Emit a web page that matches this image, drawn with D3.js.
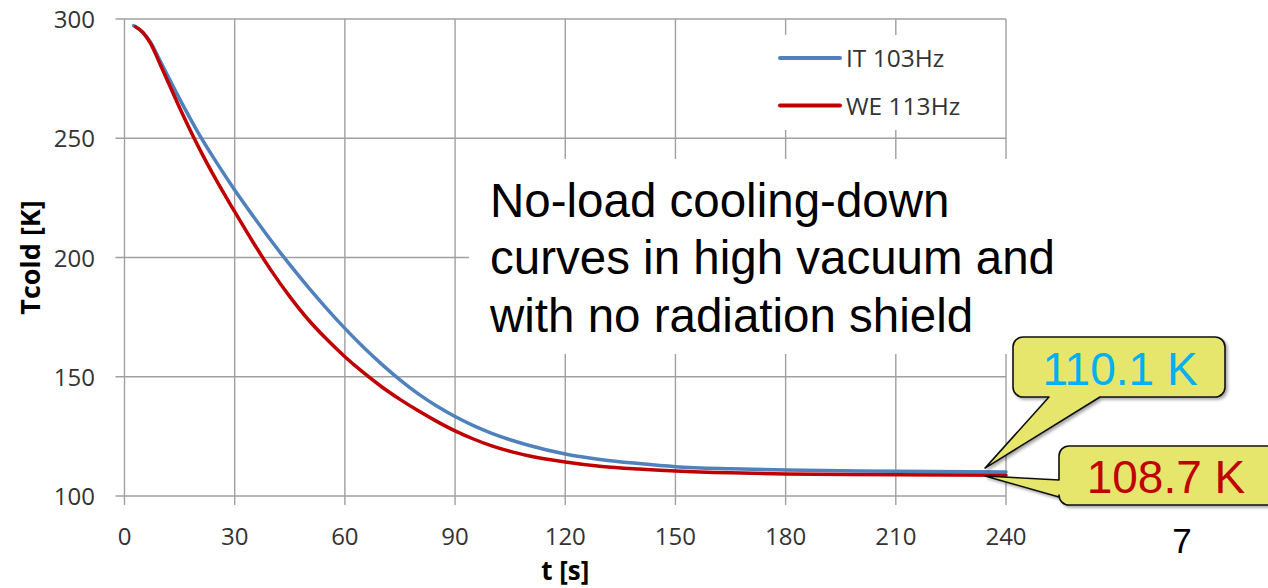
<!DOCTYPE html>
<html>
<head>
<meta charset="utf-8">
<script src="https://cdn.jsdelivr.net/npm/d3@7"></script>
<style>
  body { margin: 0; background: #fff; }
  svg { display: block; }
</style>
</head>
<body>
<script>
// Data
const tBlue = [2.5, 5, 7, 10, 15, 20, 25, 30, 35, 40, 45, 50, 55, 60, 65, 70, 75, 80, 85, 90, 95, 100, 105, 110, 120, 130, 140, 150, 165, 180, 210, 240];
const itValues = [297.2, 294.5, 290.5, 281.5, 266.5, 252.5, 240, 228.3, 217.4, 206.9, 197, 187.6, 178.7, 170.3, 162.5, 155.3, 148.7, 142.8, 137.7, 133.3, 129.5, 126.3, 123.6, 121.3, 117.6, 115.2, 113.6, 112.3, 111.4, 110.9, 110.4, 110.1];
const tRed = [3, 5, 7, 10, 15, 20, 25, 30, 35, 40, 45, 50, 55, 60, 65, 70, 75, 80, 85, 90, 95, 100, 105, 110, 120, 130, 140, 150, 165, 180, 210, 240];
const weValues = [296.8, 294.3, 290, 280, 262.8, 246.8, 232.4, 219.2, 206.4, 194.4, 183.6, 174, 165.8, 158.4, 151.8, 145.8, 140.5, 135.7, 131.3, 127.3, 123.9, 121, 118.7, 116.9, 114.3, 112.4, 111.3, 110.5, 109.7, 109.2, 108.9, 108.7];
const xTicks = [0, 30, 60, 90, 120, 150, 180, 210, 240];
const yTicks = [100, 150, 200, 250, 300];
const seriesNames = ["IT 103Hz", "WE 113Hz"];
const noteLines = ["No-load cooling-down", "curves in high vacuum and", "with no radiation shield"];
const endLabels = ["110.1 K", "108.7 K"];

const width = 1268, height = 588;
const blue = "#4f81bd", red = "#c00000", grid = "#a0a0a0";

const svg = d3.select("body").append("svg")
  .attr("width", width)
  .attr("height", height);

const x = d3.scaleLinear().domain([0, 240]).range([124.5, 1006]);
const y = d3.scaleLinear().domain([100, 300]).range([496, 19]);

// grid lines + ticks
const g = svg.append("g");
g.selectAll(".hgrid").data(yTicks).join("line")
  .attr("x1", x(0) - 9).attr("x2", x(240))
  .attr("y1", d => y(d)).attr("y2", d => y(d))
  .attr("stroke", grid).attr("stroke-width", 1.4);
g.selectAll(".vgrid").data(xTicks).join("line")
  .attr("x1", d => x(d)).attr("x2", d => x(d))
  .attr("y1", y(300)).attr("y2", y(100) + 9)
  .attr("stroke", grid).attr("stroke-width", 1.4);

// tick labels
svg.append("g").selectAll("text").data(yTicks).join("text")
  .attr("x", 95).attr("y", d => y(d) + 9)
  .attr("text-anchor", "end")
  .attr("font-family", "Open Sans, sans-serif")
  .attr("font-size", 24)
  .attr("fill", "#333")
  .text(d => d);
svg.append("g").selectAll("text").data(xTicks).join("text")
  .attr("x", d => x(d)).attr("y", 545)
  .attr("text-anchor", "middle")
  .attr("font-family", "Open Sans, sans-serif")
  .attr("font-size", 24)
  .attr("fill", "#333")
  .text(d => d);

// axis titles
svg.append("text")
  .attr("transform", `translate(40, ${y(200)}) rotate(-90)`)
  .attr("text-anchor", "middle")
  .attr("font-family", "Open Sans, sans-serif")
  .attr("font-weight", "bold")
  .attr("font-size", 27)
  .text("Tcold [K]");
svg.append("text")
  .attr("x", x(120)).attr("y", 580)
  .attr("text-anchor", "middle")
  .attr("font-family", "Open Sans, sans-serif")
  .attr("font-weight", "bold")
  .attr("font-size", 26)
  .text("t [s]");

// white boxes behind legend and note
svg.append("rect")
  .attr("x", 720).attr("y", 35).attr("width", x(240) - 721).attr("height", 95)
  .attr("fill", "#fff");
svg.append("rect")
  .attr("x", 469).attr("y", 159).attr("width", 545).attr("height", 195)
  .attr("fill", "#fff");

// curves
const series = [
  { name: seriesNames[0], color: blue, pts: tBlue.map((t, i) => [t, itValues[i]]) },
  { name: seriesNames[1], color: red, pts: tRed.map((t, i) => [t, weValues[i]]) }
];
const line = d3.line()
  .x(d => x(d[0])).y(d => y(d[1]))
  .curve(d3.curveMonotoneX);
svg.append("g").selectAll("path").data(series).join("path")
  .attr("d", d => line(d.pts))
  .attr("fill", "none")
  .attr("stroke", d => d.color)
  .attr("stroke-width", 3.5)
  .attr("stroke-linecap", "round");

// legend
const leg = svg.append("g").selectAll("g").data(series).join("g")
  .attr("transform", (d, i) => `translate(780, ${58 + i * 47.5})`);
leg.append("line")
  .attr("x1", 0).attr("x2", 60)
  .attr("stroke", d => d.color).attr("stroke-width", 4)
  .attr("stroke-linecap", "round");
leg.append("text")
  .attr("x", 66).attr("y", 9)
  .attr("font-family", "Open Sans, sans-serif")
  .attr("font-size", 24.5)
  .attr("fill", "#333")
  .text(d => d.name);

// note
svg.append("g").selectAll("text").data(noteLines).join("text")
  .attr("x", 490).attr("y", (d, i) => 216.7 + i * 57.5)
  .attr("font-family", "Liberation Sans, Arial, sans-serif")
  .attr("font-size", 47.5)
  .attr("fill", "#000")
  .text(d => d);

// callouts
const defs = svg.append("defs");
defs.append("filter").attr("id", "shadow")
  .attr("x", "-10%").attr("y", "-10%").attr("width", "130%").attr("height", "140%")
  .append("feDropShadow")
  .attr("dx", 2).attr("dy", 2).attr("stdDeviation", 1.5)
  .attr("flood-color", "#000").attr("flood-opacity", 0.35);

const r = 10;
function calloutBottom(x0, y0, x1, y1, bx0, bx1, tip) {
  const p = d3.path();
  p.moveTo(x0 + r, y0);
  p.arcTo(x1, y0, x1, y0 + r, r);
  p.arcTo(x1, y1, x1 - r, y1, r);
  p.lineTo(bx1, y1);
  p.lineTo(tip[0], tip[1]);
  p.lineTo(bx0, y1);
  p.arcTo(x0, y1, x0, y1 - r, r);
  p.arcTo(x0, y0, x0 + r, y0, r);
  p.closePath();
  return p.toString();
}
function calloutLeft(x0, y0, x1, y1, by0, by1, tip) {
  const p = d3.path();
  p.moveTo(x0 + r, y0);
  p.arcTo(x1, y0, x1, y0 + r, r);
  p.arcTo(x1, y1, x1 - r, y1, r);
  p.arcTo(x0, y1, x0, y1 - r, r);
  p.lineTo(x0, by1);
  p.lineTo(tip[0], tip[1]);
  p.lineTo(x0, by0);
  p.arcTo(x0, y0, x0 + r, y0, r);
  p.closePath();
  return p.toString();
}
const tip1 = [x(234.3), y(111.7)];
const tip2 = [x(234.3), y(108.4)];
const calloutFill = "#e6e66c";

svg.append("path")
  .attr("d", calloutBottom(1013, 337, 1225, 397, 1049, 1100, tip1))
  .attr("fill", calloutFill).attr("stroke", "#111").attr("stroke-width", 1.6)
  .attr("stroke-linejoin", "round")
  .attr("filter", "url(#shadow)");
svg.append("path")
  .attr("d", calloutLeft(1059, 446, 1280, 505, 480, 497, tip2))
  .attr("fill", calloutFill).attr("stroke", "#111").attr("stroke-width", 1.6)
  .attr("stroke-linejoin", "round")
  .attr("filter", "url(#shadow)");

svg.append("text")
  .attr("x", 1120).attr("y", 385)
  .attr("text-anchor", "middle")
  .attr("font-family", "Liberation Sans, Arial, sans-serif")
  .attr("font-size", 46)
  .attr("fill", "#00b0f0")
  .text(endLabels[0]);
svg.append("text")
  .attr("x", 1166).attr("y", 493)
  .attr("text-anchor", "middle")
  .attr("font-family", "Liberation Sans, Arial, sans-serif")
  .attr("font-size", 46)
  .attr("fill", red)
  .text(endLabels[1]);

// slide number
svg.append("text")
  .attr("x", 1182).attr("y", 553)
  .attr("text-anchor", "middle")
  .attr("font-family", "Liberation Sans, Arial, sans-serif")
  .attr("font-size", 35)
  .attr("fill", "#000")
  .text("7");
</script>
</body>
</html>
